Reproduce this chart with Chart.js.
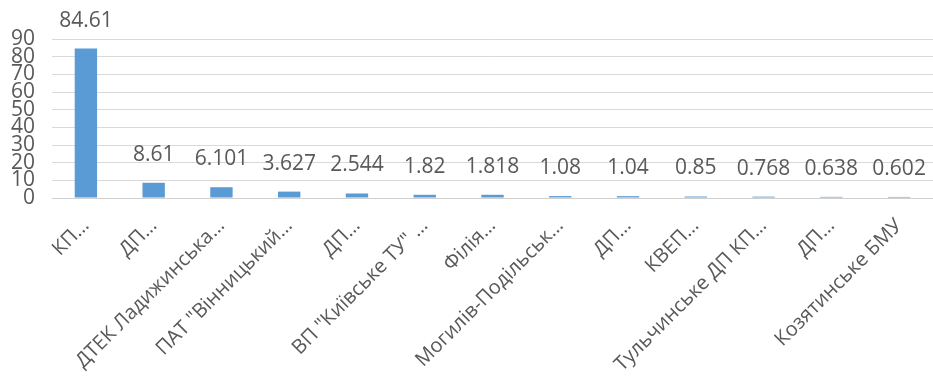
<!DOCTYPE html>
<html>
<head>
<meta charset="utf-8">
<script src="https://cdn.jsdelivr.net/npm/chart.js@4"></script>
<style>
  html, body { margin: 0; padding: 0; background: #fff; }
  #wrap { width: 933px; height: 385px; }
</style>
</head>
<body>
<div id="wrap"><canvas id="barChart"></canvas></div>
<script>
const categories = [
  'КП…', 'ДП…', 'ДТЕК Ладижинська…', 'ПАТ "Вінницький…', 'ДП…',
  'ВП "Київське ТУ" …', 'Філія…', 'Могилів-Подільськ…', 'ДП…', 'КВЕП…',
  'Тульчинське ДП КП…', 'ДП…', 'Козятинське БМУ'
];
const values = [84.61, 8.61, 6.101, 3.627, 2.544, 1.82, 1.818, 1.08, 1.04, 0.85, 0.768, 0.638, 0.602];
const valueLabels = ['84.61', '8.61', '6.101', '3.627', '2.544', '1.82', '1.818', '1.08', '1.04', '0.85', '0.768', '0.638', '0.602'];
const yTicks = [0, 10, 20, 30, 40, 50, 60, 70, 80, 90];

const textGray = '#595959';
const fontFamily = '"Open Sans", sans-serif';

// draws the number above each bar
const barLabels = {
  id: 'barLabels',
  afterDatasetsDraw(chart) {
    const c = chart.ctx;
    const meta = chart.getDatasetMeta(0);
    c.save();
    c.font = '21px ' + fontFamily;
    c.fillStyle = textGray;
    c.textAlign = 'center';
    c.textBaseline = 'middle';
    meta.data.forEach((bar, i) => {
      c.fillText(valueLabels[i], bar.x, bar.y - 28);
    });
    c.restore();
  }
};

const ctx = document.getElementById('barChart').getContext('2d');
const chart = new Chart(ctx, {
  type: 'bar',
  data: {
    labels: categories,
    datasets: [{
      data: values,
      backgroundColor: '#5B9BD5',
      borderWidth: 0,
      barPercentage: 0.33,
      categoryPercentage: 1
    }]
  },
  options: {
    responsive: true,
    maintainAspectRatio: false,
    animation: false,
    layout: { padding: { left: -6, top: 39, right: -3, bottom: 0 } },
    plugins: {
      legend: { display: false },
      tooltip: { enabled: false }
    },
    scales: {
      x: {
        // x axis gets more room than chart.js allows by default
        afterFit: axis => { axis.height = 187; },
        grid: { color: 'rgba(0,0,0,0)', drawTicks: true, tickLength: 16 },
        border: { color: '#d0d0d0' },
        ticks: {
          autoSkip: false,
          maxRotation: 45,
          minRotation: 45,
          padding: 0,
          color: textGray,
          font: { family: fontFamily, size: 20 }
        }
      },
      y: {
        min: 0,
        max: 90,
        afterBuildTicks: axis => { axis.ticks = yTicks.map(v => ({ value: v })); },
        grid: { color: '#d9d9d9', drawTicks: false },
        border: { display: false },
        ticks: {
          autoSkip: false,
          padding: 17,
          color: textGray,
          font: { family: fontFamily, size: 21, lineHeight: 1 }
        }
      }
    }
  },
  plugins: [barLabels]
});
</script>
</body>
</html>
